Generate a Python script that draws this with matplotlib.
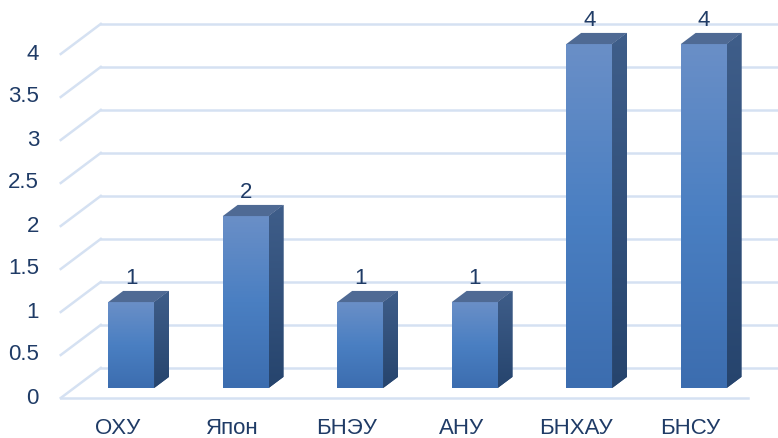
import numpy as np
import matplotlib
matplotlib.use('Agg')
import matplotlib.pyplot as plt
from matplotlib.patches import Polygon
from matplotlib.colors import LinearSegmentedColormap

# データ
categories = ['ОХУ', 'Япон', 'БНЭУ', 'АНУ', 'БНХАУ', 'БНСУ']
values = [1, 2, 1, 1, 4, 4]
yticks = [0, 0.5, 1, 1.5, 2, 2.5, 3, 3.5, 4]

plt.rcParams['font.family'] = ['Liberation Sans', 'DejaVu Sans']
text_color = '#1F3B66'
grid_color = '#D5E1F2'
fs = 16

fig = plt.figure(figsize=(7.78, 4.38), dpi=100)
ax = fig.add_axes([0, 0, 1, 1])
ax.axis('off')

# 奥行き（床の深さ）
depth = 0.35
f_front, f_back = 0.33, 0.70
bar_w = 0.40
n = len(categories)

# 背面のグリッド線と左側の斜め線
for v in yticks:
    ax.plot([-0.5, -0.5 + depth], [v, v + depth], color=grid_color, lw=1.8, zorder=1)
    ax.plot([-0.5 + depth, n + 1], [v + depth, v + depth], color=grid_color, lw=1.8, zorder=1)
    ax.text(-0.69, v, f'{v:g}', ha='right', va='center', fontsize=fs, color=text_color)
# 床の前縁
ax.plot([-0.5, n - 0.5], [0, 0], color=grid_color, lw=1.8, zorder=1)

front_cmap = LinearSegmentedColormap.from_list('front', ['#3C6DAF', '#4A7FC2', '#6A8FC7'])
side_cmap = LinearSegmentedColormap.from_list('side', ['#26446D', '#3F5E8A'])
top_color = '#4F6A94'
grad = np.linspace(0, 1, 256).reshape(-1, 1)

ox, oy = f_front * depth, f_front * depth
dd = (f_back - f_front) * depth
x = np.arange(n) + ox

bars = ax.bar(x, values, width=bar_w, bottom=oy, color='#4A7FC2', zorder=3)
for i, (b, v) in enumerate(zip(bars, values)):
    x0 = b.get_x()
    x1 = x0 + b.get_width()
    y0 = b.get_y()
    y1 = y0 + b.get_height()
    im = ax.imshow(grad, extent=[x0, x1, y0, y1], origin='lower', cmap=front_cmap,
                   aspect='auto', zorder=4)
    im.set_clip_path(b)
    side = Polygon([(x1, y0), (x1 + dd, y0 + dd), (x1 + dd, y1 + dd), (x1, y1)],
                   closed=True, facecolor='#2F4F7C', edgecolor='none', zorder=3)
    ax.add_patch(side)
    im2 = ax.imshow(grad, extent=[x1, x1 + dd, y0, y1 + dd], origin='lower', cmap=side_cmap,
                    aspect='auto', zorder=4)
    im2.set_clip_path(side)
    top = Polygon([(x0, y1), (x0 + dd, y1 + dd), (x1 + dd, y1 + dd), (x1, y1)],
                  closed=True, facecolor=top_color, edgecolor='none', zorder=5)
    ax.add_patch(top)
    ax.text((x0 + x1) / 2, y1 + 0.27, f'{v}', ha='center', va='center',
            fontsize=fs, color=text_color, zorder=6)

# カテゴリラベル
for i, c in enumerate(categories):
    ax.text(i, -0.36, c, ha='center', va='center', fontsize=fs, color=text_color)

ax.set_xlim(-118 / 114.5, (778 - 118) / 114.5)
ax.set_ylim(-40 / 86, 398 / 86)

fig.savefig('out.png', dpi=100)
